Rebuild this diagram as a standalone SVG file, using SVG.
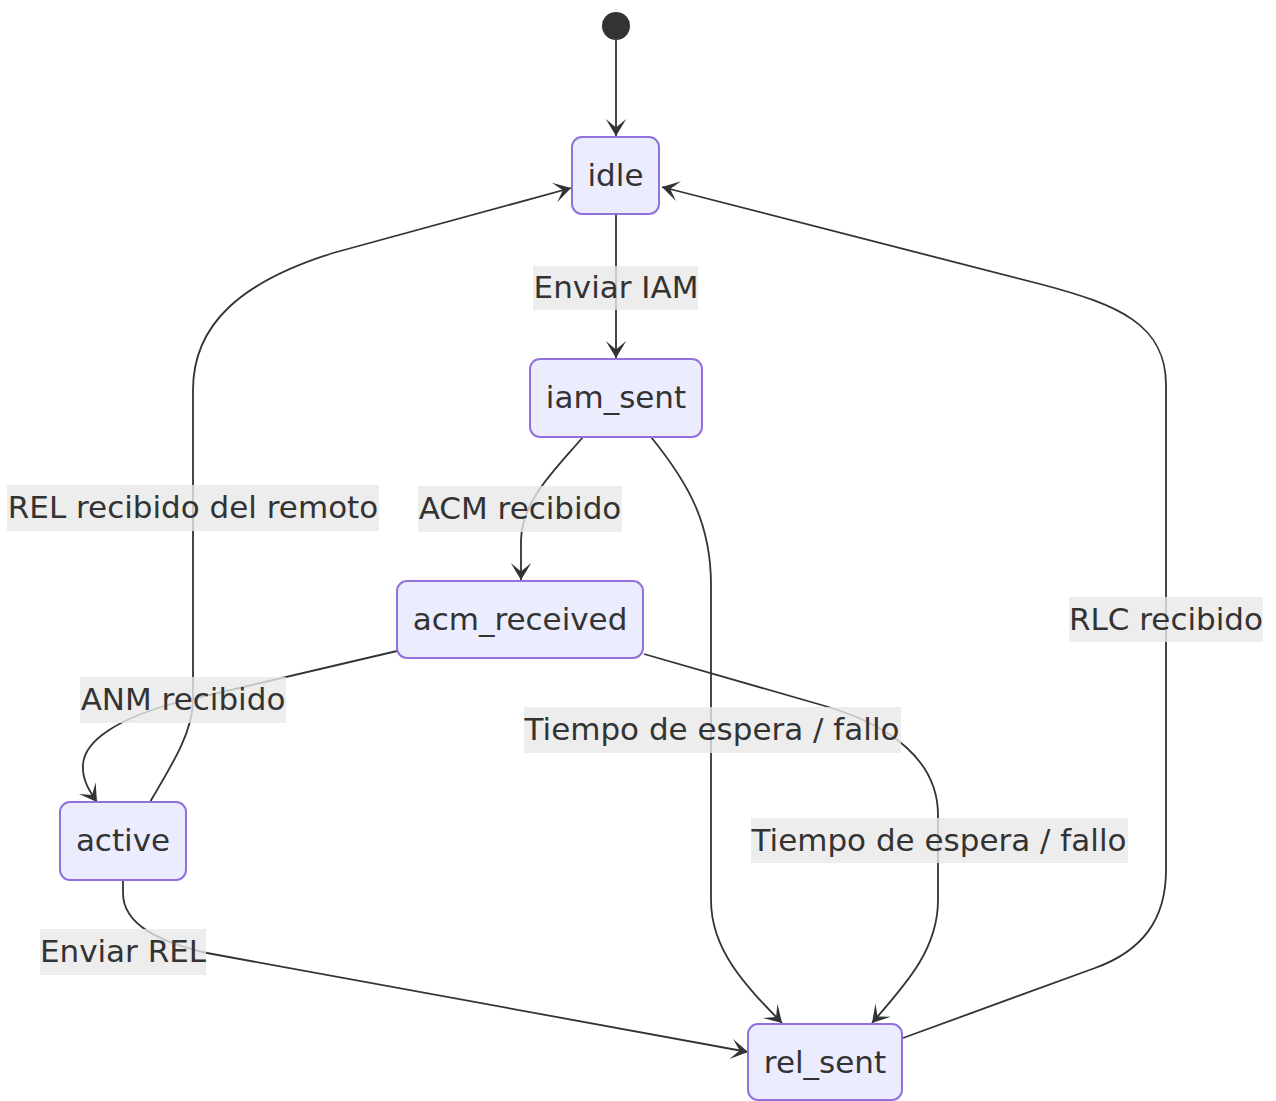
<svg xmlns="http://www.w3.org/2000/svg" width="1276" height="1101" viewBox="0 0 1276 1101">
<style>
.node rect{fill:#ECECFF;stroke:#9370DB;stroke-width:2}
.node text,.lbl text{font-family:"DejaVu Sans","Liberation Sans",sans-serif;font-size:31px;fill:#333;text-anchor:middle}
.edges path{fill:none;stroke:#333;stroke-width:1.8;marker-end:url(#barb)}
.lbl rect{fill:#e8e8e8;opacity:0.8}
</style>
<defs>
<marker id="barb" viewBox="0 0 20 14" refX="19" refY="7" markerUnits="userSpaceOnUse" markerWidth="34" markerHeight="24" orient="auto">
<path d="M19,7 L9,13 L14,7 L9,1 Z" fill="#333"/>
</marker>
</defs>
<rect width="1276" height="1101" fill="#fff"/>
<g id="edges" class="edges">
<path d="M616,40 L616,136"/>
<path d="M616,214 L616,358"/>
<path d="M583,437 C555,470 522,500 521,540 L521,580"/>
<path d="M651,437 C690,485 711,525 711,585 L711,900 C711,950 745,985 782,1023"/>
<path d="M644,654 L825,706 C890,725 938,760 938,815 L938,900 C938,950 905,985 872,1023"/>
<path d="M397,651 L175,703 C120,718 84,740 83,765 C82,780 90,792 97,802"/>
<path d="M150,802 C175,760 193,730 193,700 L193,390 C193,325 240,282 333,253 L571,188"/>
<path d="M123,881 L123,893 C123,925 160,942 207,953 L748,1052"/>
<path d="M903,1038 L1095,968 C1142,951 1166,920 1166,870 L1166,385 C1166,325 1120,305 1040,284 L662,187"/>
</g>
<g id="labels">
<g class="lbl"><rect x="533" y="266" width="165" height="44"/><text x="616" y="298">Enviar IAM</text></g>
<g class="lbl"><rect x="7" y="485" width="372" height="46"/><text x="193" y="518">REL recibido del remoto</text></g>
<g class="lbl"><rect x="418" y="486" width="204" height="46"/><text x="520" y="519">ACM recibido</text></g>
<g class="lbl"><rect x="1069" y="597" width="194" height="45"/><text x="1166" y="630">RLC recibido</text></g>
<g class="lbl"><rect x="80" y="677" width="206" height="46"/><text x="183" y="710">ANM recibido</text></g>
<g class="lbl"><rect x="524" y="707" width="377" height="46"/><text x="712" y="740">Tiempo de espera / fallo</text></g>
<g class="lbl"><rect x="751" y="818" width="377" height="45"/><text x="939" y="851">Tiempo de espera / fallo</text></g>
<g class="lbl"><rect x="40" y="929" width="166" height="46"/><text x="123" y="962">Enviar REL</text></g>
</g>
<g id="start"><circle cx="616" cy="26" r="14" fill="#333"/></g>
<g id="idle" class="node"><rect x="572" y="137" width="87" height="77" rx="10"/><text x="615.5" y="186">idle</text></g>
<g id="iam_sent" class="node"><rect x="530" y="359" width="172" height="78" rx="10"/><text x="616" y="408">iam_sent</text></g>
<g id="acm_received" class="node"><rect x="397" y="581" width="246" height="77" rx="10"/><text x="520" y="630">acm_received</text></g>
<g id="active" class="node"><rect x="60" y="802" width="126" height="78" rx="10"/><text x="123" y="851">active</text></g>
<g id="rel_sent" class="node"><rect x="748" y="1024" width="154" height="76" rx="10"/><text x="825" y="1073">rel_sent</text></g>
</svg>
